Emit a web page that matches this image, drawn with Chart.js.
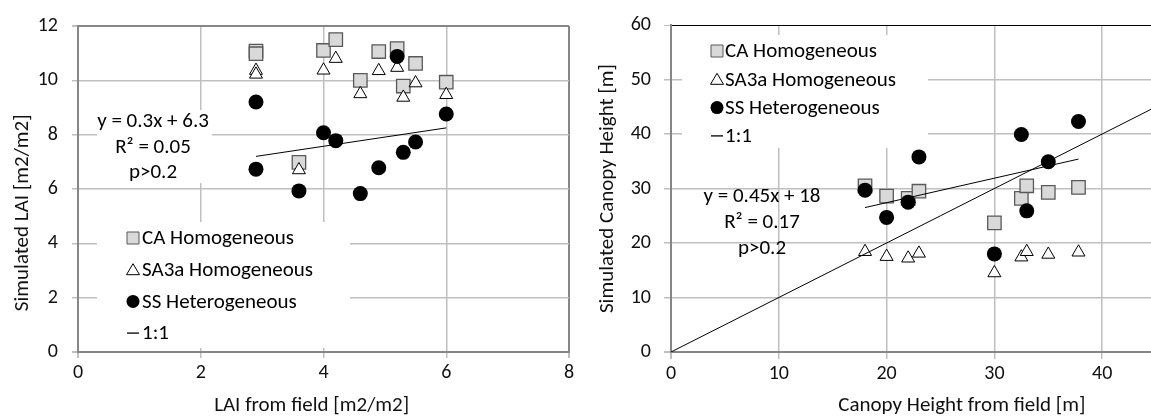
<!DOCTYPE html>
<html>
<head>
<meta charset="utf-8">
<script src="https://cdn.jsdelivr.net/npm/chart.js@4.4.1/dist/chart.umd.min.js"></script>
<style>
  html, body { margin: 0; padding: 0; background: #fff; }
  body { width: 1151px; height: 418px; overflow: hidden; position: relative; }
  canvas { position: absolute; top: 0; }
  #laiChart { left: 0; }
  #heightChart { left: 580px; }
</style>
</head>
<body>
<canvas id="laiChart" width="580" height="418"></canvas>
<canvas id="heightChart" width="680" height="418"></canvas>
<script>
// ---- LAI panel (left) ----
const laiField = [2.9, 2.9, 3.6, 4.0, 4.2, 4.6, 4.9, 5.2, 5.3, 5.5, 6.0];
const laiCA = [11.08, 10.98, 6.98, 11.1, 11.5, 10.0, 11.06, 11.17, 9.79, 10.62, 9.93];
const laiSA3a = [10.36, 10.22, 6.7, 10.37, 10.8, 9.5, 10.35, 10.47, 9.37, 9.9, 9.47];
const laiSS = [9.2, 6.73, 5.93, 8.07, 7.78, 5.83, 6.78, 10.88, 7.35, 7.73, 8.76];
const laiTrendX = [2.9, 6.0];
const laiTrendY = [7.2, 8.25];
const laiEquation = ["y = 0.3x + 6.3", "R\u00b2 = 0.05", "p>0.2"];

// ---- Canopy height panel (right) ----
const hField = [18, 20, 22, 23, 30, 32.5, 33, 35, 37.8];
const hCA = [30.5, 28.6, 28.2, 29.5, 23.7, 28.2, 30.5, 29.3, 30.2];
const hSA3a = [18.4, 17.5, 17.2, 18.1, 14.5, 17.4, 18.4, 17.9, 18.3];
const hSS = [29.7, 24.7, 27.5, 35.8, 18.0, 39.9, 25.9, 34.9, 42.3];
const hTrendX = [18, 37.8];
const hTrendY = [26.5, 35.4];
const oneToOne = [0, 50];
const hEquation = ["y = 0.45x + 18", "R\u00b2 = 0.17", "p>0.2"];

const seriesNames = ["CA Homogeneous", "SA3a Homogeneous", "SS Heterogeneous", "1:1"];

const FONT = "Calibri, Carlito, Lato, sans-serif";
const gridGray = "#bfbfbf";
const axisGray = "#868686";

Chart.defaults.font.family = FONT;
Chart.defaults.color = "#111";

const pts = (xs, ys) => xs.map((x, i) => ({x: x, y: ys[i]}));
// titles in the original are not centred on the plot, nudge them with blank space
const nudge = (text, before, after) => " ".repeat(before) + text + " ".repeat(after);

function markerSets(xs, ca, sa, ss) {
    return [
        {label: seriesNames[0], data: pts(xs, ca), pointStyle: "rect", radius: 9.5,
         backgroundColor: "#d9d9d9", borderColor: "#595959", borderWidth: 1.3, order: 3},
        {label: seriesNames[1], data: pts(xs, sa), pointStyle: "triangle", radius: 7.5,
         backgroundColor: "#fff", borderColor: "#000", borderWidth: 1, order: 2},
        {label: seriesNames[2], data: pts(xs, ss), pointStyle: "circle", radius: 7.5,
         backgroundColor: "#000", borderColor: "#000", borderWidth: 0, order: 1}
    ];
}

function lineSet(label, data, hidden) {
    return {label: label, data: data, showLine: true, pointRadius: 0, borderColor: "#000",
            borderWidth: 1, order: 0, noLegend: hidden};
}

// white boxes, equation text and the legend drawn inside the plot
const notes = {
    id: "notes",
    beforeDatasetsDraw(chart, args, o) {
        const ctx = chart.ctx;
        ctx.save();
        ctx.fillStyle = "#fff";
        o.boxes.forEach(b => ctx.fillRect(b[0], b[1], b[2], b[3]));
        ctx.font = o.font;
        ctx.fillStyle = "#000";
        ctx.textBaseline = "middle";
        ctx.textAlign = "center";
        o.equation.forEach((t, i) => ctx.fillText(t, o.eqX, o.eqY + i * o.eqGap));
        ctx.textAlign = "left";
        let row = 0;
        chart.data.datasets.forEach(ds => {
            if (ds.noLegend) return;
            const y = o.legY + row * o.legGap, x = o.legX;
            ctx.lineWidth = 1;
            ctx.beginPath();
            if (ds.pointStyle === "rect") {
                ctx.fillStyle = ds.backgroundColor; ctx.strokeStyle = ds.borderColor;
                ctx.rect(x - 6, y - 6, 12, 12); ctx.fill(); ctx.stroke();
            } else if (ds.pointStyle === "triangle") {
                ctx.fillStyle = "#fff"; ctx.strokeStyle = "#000";
                ctx.moveTo(x, y - 6); ctx.lineTo(x + 6.5, y + 5); ctx.lineTo(x - 6.5, y + 5);
                ctx.closePath(); ctx.fill(); ctx.stroke();
            } else if (ds.pointStyle === "circle") {
                ctx.fillStyle = "#000";
                ctx.arc(x, y, 6.5, 0, Math.PI * 2); ctx.fill();
            } else {
                ctx.strokeStyle = "#000"; ctx.lineWidth = 1.3;
                ctx.moveTo(x - 6, y); ctx.lineTo(x + 6, y); ctx.stroke();
            }
            ctx.fillStyle = "#000";
            ctx.fillText(ds.label, o.textX, y + 1);
            row++;
        });
        ctx.restore();
    }
};

function axes(o) {
    return {
        x: {
            type: "linear", min: 0, max: o.xMax,
            afterFit: s => { s.height = 66; },
            ticks: {stepSize: o.xStep, padding: 3, font: {size: 20}, maxRotation: 0},
            grid: {
                color: c => (c.tick.value === o.xEdge || c.tick.value === 0) ? axisGray : gridGray,
                lineWidth: c => (c.tick.value === o.xEdge || c.tick.value === 0) ? 2 : 1.5,
                tickColor: gridGray, tickLength: o.tick
            },
            border: {color: axisGray, width: 2},
            title: {display: true, text: o.xTitle, font: {size: 21}, padding: {top: 0, bottom: 0}}
        },
        y: {
            min: 0, max: o.yMax,
            afterFit: s => { s.width = o.yWidth; },
            ticks: {stepSize: o.yStep, padding: o.yPad, font: {size: 20}},
            grid: {
                color: c => c.tick.value === o.yMax ? o.topColor : (c.tick.value === 0 ? axisGray : gridGray),
                lineWidth: c => c.tick.value === o.yMax ? o.topWidth : (c.tick.value === 0 ? 2 : 1.5),
                tickColor: gridGray, tickLength: o.tick
            },
            border: {color: axisGray, width: 2},
            title: {display: true, text: o.yTitle, font: {size: 21}, padding: {top: o.yTitlePad}}
        }
    };
}

new Chart(document.getElementById("laiChart"), {
    type: "scatter",
    data: {
        datasets: [
            ...markerSets(laiField, laiCA, laiSA3a, laiSS),
            lineSet(seriesNames[3], [], false),
            lineSet("trend", pts(laiTrendX, laiTrendY), true)
        ]
    },
    options: {
        responsive: false, animation: false, events: [],
        layout: {padding: {top: 22, right: 11, left: 0, bottom: 0}},
        scales: axes({xMax: 8, xStep: 2, xEdge: 8, yMax: 12, yStep: 2,
                      topColor: axisGray, topWidth: 2,
                      yWidth: 78, yPad: 14, tick: 6, yTitlePad: 10,
                      xTitle: nudge("LAI from field [m2/m2]", 0, 5),
                      yTitle: nudge("Simulated LAI [m2/m2]", 0, 10)}),
        plugins: {
            legend: {display: false}, tooltip: {enabled: false},
            notes: {
                font: "21px " + FONT,
                boxes: [[97, 222, 253, 126], [97, 110, 115, 73]],
                equation: laiEquation, eqX: 153, eqY: 122, eqGap: 25.5,
                legX: 133, textX: 142, legY: 238, legGap: 31.7
            }
        }
    },
    plugins: [notes]
});

new Chart(document.getElementById("heightChart"), {
    type: "scatter",
    data: {
        datasets: [
            ...markerSets(hField, hCA, hSA3a, hSS),
            lineSet(seriesNames[3], pts(oneToOne, oneToOne), false),
            lineSet("trend", pts(hTrendX, hTrendY), true)
        ]
    },
    options: {
        responsive: false, animation: false, events: [],
        layout: {padding: {top: 25, right: 50, left: 0, bottom: 0}},
        scales: axes({xMax: 50, xStep: 10, xEdge: null, yMax: 60, yStep: 10,
                      topColor: "#000", topWidth: 1,
                      yWidth: 91, yPad: 13, tick: 7, yTitlePad: 15,
                      xTitle: nudge("Canopy Height from field [m]", 9, 0),
                      yTitle: "Simulated Canopy Height [m]"}),
        plugins: {
            legend: {display: false}, tooltip: {enabled: false},
            notes: {
                font: "21px " + FONT,
                boxes: [[102, 35, 246, 113]],
                equation: hEquation, eqX: 182, eqY: 197, eqGap: 26,
                legX: 137, textX: 145, legY: 51, legGap: 28.3
            }
        }
    },
    plugins: [notes]
});
</script>
</body>
</html>
